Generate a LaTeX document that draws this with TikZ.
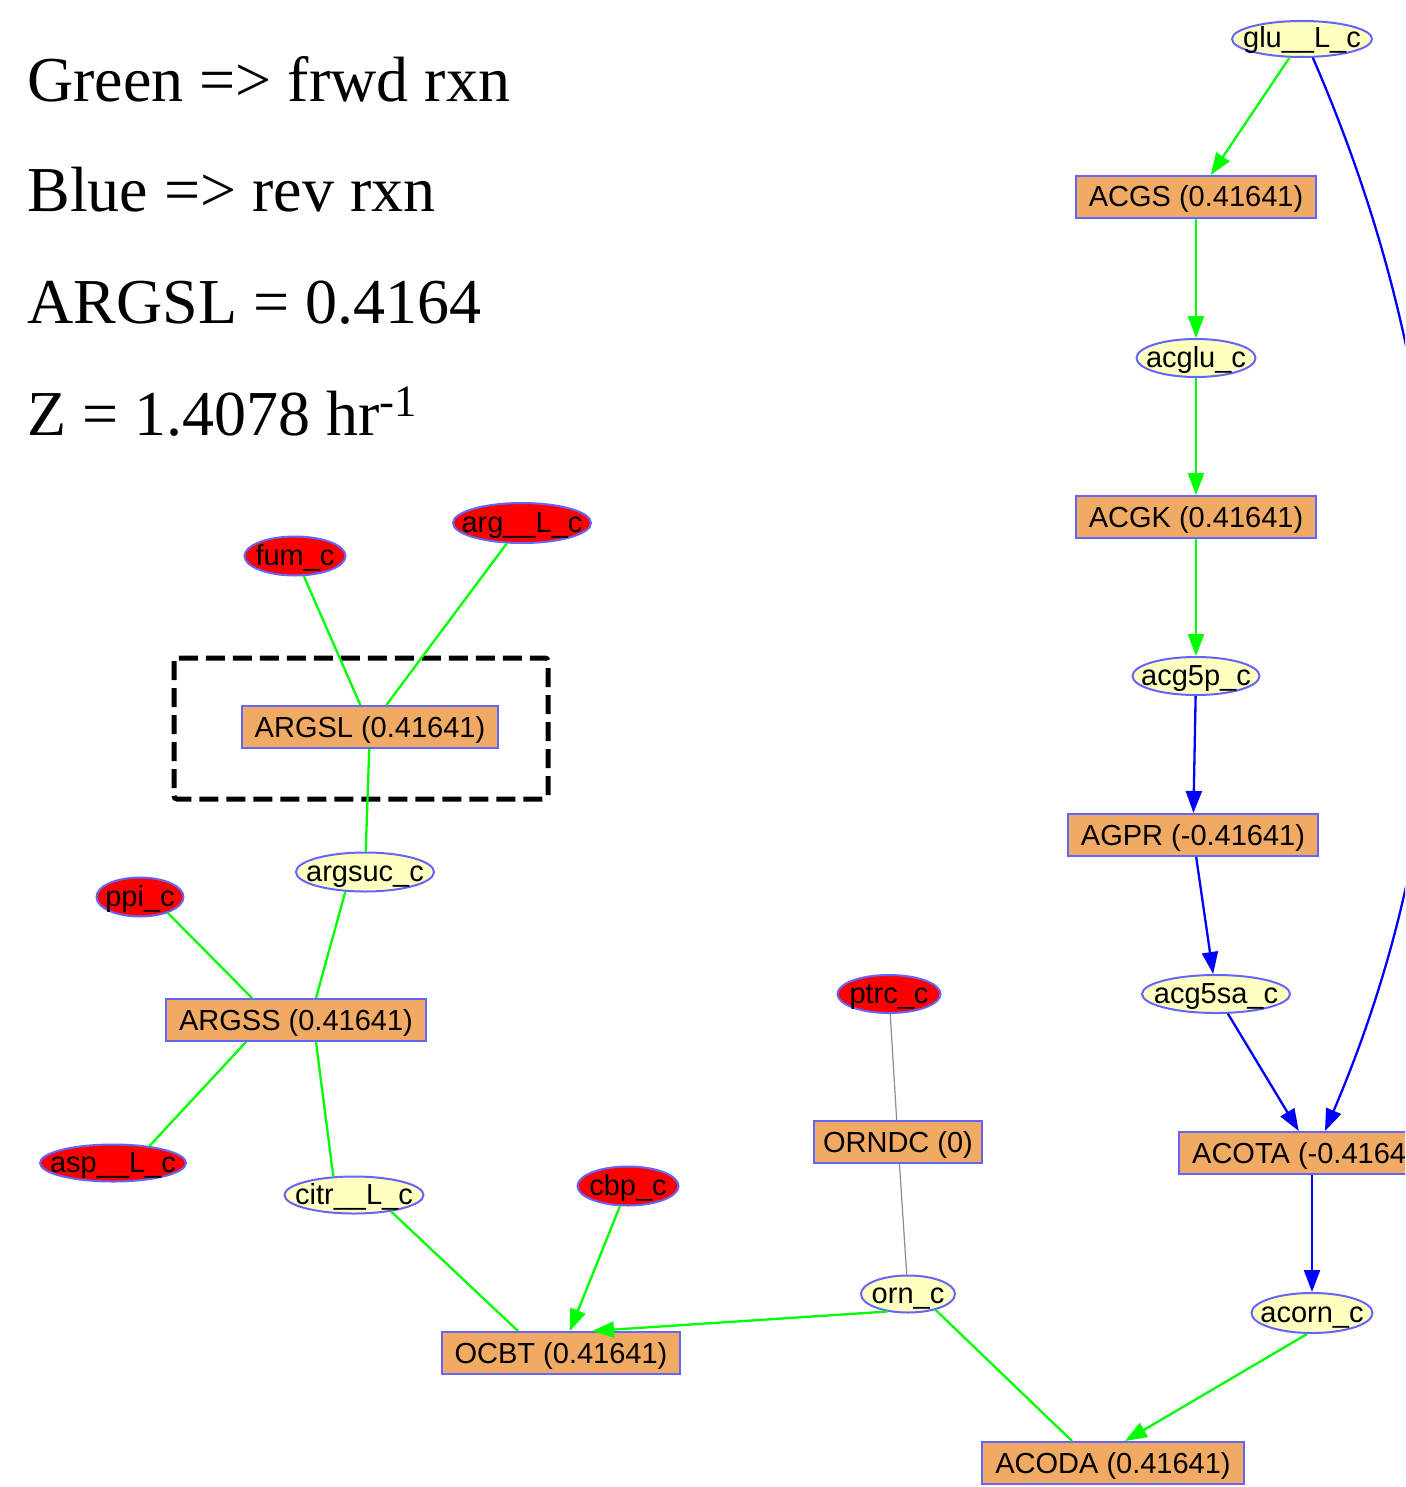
\documentclass[tikz,border=0pt]{standalone}
\usepackage{fontspec}
\setmainfont{Liberation Serif}
\newfontfamily\labelfont{Liberation Sans}
\usetikzlibrary{shapes.geometric,arrows.meta,calc}

\definecolor{rxnfill}{RGB}{240,170,100}
\definecolor{nodeedge}{RGB}{100,100,255}
\definecolor{metfill}{RGB}{255,255,192}
\definecolor{extfill}{RGB}{255,0,0}
\definecolor{fwd}{RGB}{0,255,0}
\definecolor{rev}{RGB}{0,0,255}
\definecolor{zero}{RGB}{140,140,140}

\begin{document}
\begin{tikzpicture}[x=0.5pt,y=-0.5pt,
  rxn/.style={rectangle, draw=nodeedge, fill=rxnfill, line width=1pt,
    inner xsep=6.5pt, inner ysep=0pt, minimum height=21pt,
    text height=10.5pt, text depth=0.5pt,
    font=\labelfont\fontsize{14.5}{17}\selectfont},
  met/.style args={#1/#2}{ellipse, draw=nodeedge, fill=metfill, line width=1pt,
    inner sep=0pt, minimum width=#1, minimum height=#2},
  ext/.style={fill=extfill},
  every label/.style={font=\labelfont\fontsize{14.5}{17}\selectfont,
    inner sep=0pt, text height=10.5pt, text depth=1.5pt},
  fwdline/.style={draw=fwd, line width=1.15pt},
  revline/.style={draw=rev, line width=1.15pt},
  zeroline/.style={draw=zero, line width=0.6pt},
  tip/.style={-{Triangle[length=11pt,width=8pt]}},
  legend/.style={anchor=base west, inner sep=0pt, font=\fontsize{32}{38}\selectfont}
]
\useasboundingbox (0,0) rectangle (1405,1487);
\fill[white] (0,0) rectangle (1405,1487);
\clip (0,0) rectangle (1405,1487);

% legend
\node[legend] (lg1) at (27,102) {Green => frwd rxn};
\node[legend] (lg2) at (27,212) {Blue => rev rxn};
\node[legend] (lg3) at (27,323) {ARGSL = 0.4164};
\node[legend] (lg4) at (27,435) {Z = 1.4078 hr\textsuperscript{-1}};

% reactions
\node[rxn] (ACGS)  at (1196,197)  {ACGS (0.41641)};
\node[rxn] (ACGK)  at (1196,517)  {ACGK (0.41641)};
\node[rxn] (AGPR)  at (1193,835)  {AGPR (-0.41641)};
\node[rxn] (ACOTA) at (1312,1153) {ACOTA (-0.41641)};
\node[rxn] (ACODA) at (1113,1463) {ACODA (0.41641)};
\node[rxn] (OCBT)  at (561,1353)  {OCBT (0.41641)};
\node[rxn, inner xsep=4.5pt] (ORNDC) at (898,1142)  {ORNDC (0)};
\node[rxn] (ARGSS) at (296,1020)  {ARGSS (0.41641)};
\node[rxn] (ARGSL) at (370,727)   {ARGSL (0.41641)};

% metabolites
\node[met=70pt/18pt, label={center:glu\_\_L\_c}] (glu) at (1302,39) {};
\node[met=59.5pt/19pt, label={center:acglu\_c}] (acglu) at (1196,358) {};
\node[met=63.5pt/19pt, label={center:acg5p\_c}] (acg5p) at (1196,676) {};
\node[met=74pt/19pt, label={center:acg5sa\_c}] (acg5sa) at (1216,994) {};
\node[met=60.5pt/20pt, label={center:acorn\_c}] (acorn) at (1312,1313) {};
\node[met=47pt/18.5pt, label={center:orn\_c}] (orn) at (908,1294) {};
\node[met=50.5pt/19.5pt, ext, label={center:cbp\_c}] (cbp) at (628,1186) {};
\node[met=51.5pt/19pt, ext, label={center:ptrc\_c}] (ptrc) at (889,994) {};
\node[met=69.5pt/18.5pt, label={center:citr\_\_L\_c}] (citr) at (354,1195) {};
\node[met=73pt/18.5pt, ext, label={center:asp\_\_L\_c}] (asp) at (113,1163) {};
\node[met=43.5pt/19.5pt, ext, label={center:ppi\_c}] (ppi) at (140,897) {};
\node[met=69pt/19.5pt, label={center:argsuc\_c}] (argsuc) at (365,872) {};
\node[met=50.5pt/19.5pt, ext, label={center:fum\_c}] (fum) at (295,556) {};
\node[met=69pt/20pt, ext, label={center:arg\_\_L\_c}] (arg) at (522,523) {};

% highlight around ARGSL
\draw[black, line width=2.5pt, dash pattern=on 9.5pt off 4pt, rounded corners=1.5pt]
  (174,658) rectangle (548,799);

% connectors
\draw[fwdline,tip] (glu) -- (ACGS);
\draw[fwdline,tip] (ACGS) -- (acglu);
\draw[fwdline,tip] (acglu) -- (ACGK);
\draw[fwdline,tip] (ACGK) -- (acg5p);
\draw[revline,tip] (acg5p) -- (AGPR);
\draw[revline,tip] (AGPR) -- (acg5sa);
\draw[revline,tip] (acg5sa) -- (ACOTA);
\draw[revline,tip] (glu.-60) .. controls (1470,420) and (1475,780) .. ($(ACOTA.north)+(13,0)$);
\draw[revline,tip] (ACOTA) -- (acorn);
\draw[fwdline,tip] ($(acorn.south)+(-5,0)$) -- ($(ACODA.north)+(12,0)$);
\draw[fwdline] (orn.-30) -- ($(ACODA.north)+(-41,0)$);
\draw[fwdline,tip] (orn.-140) -- ($(OCBT.north)+(31,0)$);
\draw[fwdline,tip] (cbp) -- (OCBT);
\draw[fwdline] (citr.-24) -- ($(OCBT.north)+(-43,0)$);
\draw[zeroline] (ptrc) -- (ORNDC);
\draw[zeroline] (ORNDC) -- (orn);
\draw[fwdline] (ppi.-30) -- ($(ARGSS.north)+(-44,0)$);
\draw[fwdline] (argsuc.-135) -- ($(ARGSS.north)+(20,0)$);
\draw[fwdline] ($(ARGSS.south)+(-50,0)$) -- (asp.25);
\draw[fwdline] ($(ARGSS.south)+(20,0)$) -- (citr.138);
\draw[fwdline] (ARGSL) -- (argsuc);
\draw[fwdline] (fum) -- (ARGSL);
\draw[fwdline] (arg) -- (ARGSL);
\end{tikzpicture}
\end{document}
